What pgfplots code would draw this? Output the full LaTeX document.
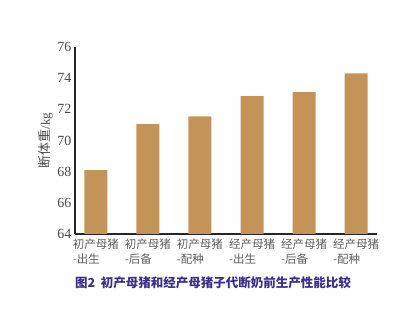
\documentclass[border=0pt]{standalone}
\usepackage{pgfplots}
\pgfplotsset{compat=1.18}
\usepackage{fontspec}
\setmainfont{Liberation Serif}
\newfontfamily\cjk{Noto Sans CJK SC}
\definecolor{barc}{HTML}{C49358}
\definecolor{capc}{HTML}{3B2E8C}
\definecolor{tickc}{HTML}{4A4A4A}
\definecolor{xtc}{HTML}{5E5E5E}
\begin{document}
\begin{tikzpicture}[x=1pt,y=1pt]
\useasboundingbox (0,0) rectangle (417,323);
\begin{axis}[
  at={(75pt,89pt)}, anchor=south west,
  scale only axis, width=302pt, height=187pt,
  xmin=-0.4, xmax=5.4, ymin=64, ymax=76,
  ytick={64,66,...,76},
  xtick={0,1,2,3,4,5},
  xticklabels={{初产母猪\\-出生},{初产母猪\\-后备},{初产母猪\\-配种},{经产母猪\\-出生},{经产母猪\\-后备},{经产母猪\\-配种}},
  xticklabel style={align=left, font=\cjk\fontsize{11.5}{15}\selectfont, text=xtc, yshift=-1pt},
  yticklabel style={font=\fontsize{14}{14}\selectfont, text=tickc, xshift=0pt},
  /pgf/number format/assume math mode=true,
  axis x line=bottom, axis y line=left,
  axis line style={-, line width=1.2pt, draw=black!85},
  major tick length=0pt,
  ylabel={{\cjk 断体重}/kg},
  ylabel style={font=\fontsize{13}{13}\selectfont, text=tickc, yshift=-2pt},
  ybar, bar width=23pt,
  enlargelimits=false,
]
\addplot[fill=barc, draw=none] coordinates {(0,68.1) (1,71.05) (2,71.55) (3,72.85) (4,73.1) (5,74.3)};
\end{axis}
\node[font=\cjk\bfseries\fontsize{12.5}{14}\selectfont, text=capc] at (213,40) {图2\ \ 初产母猪和经产母猪子代断奶前生产性能比较};
\end{tikzpicture}
\end{document}
